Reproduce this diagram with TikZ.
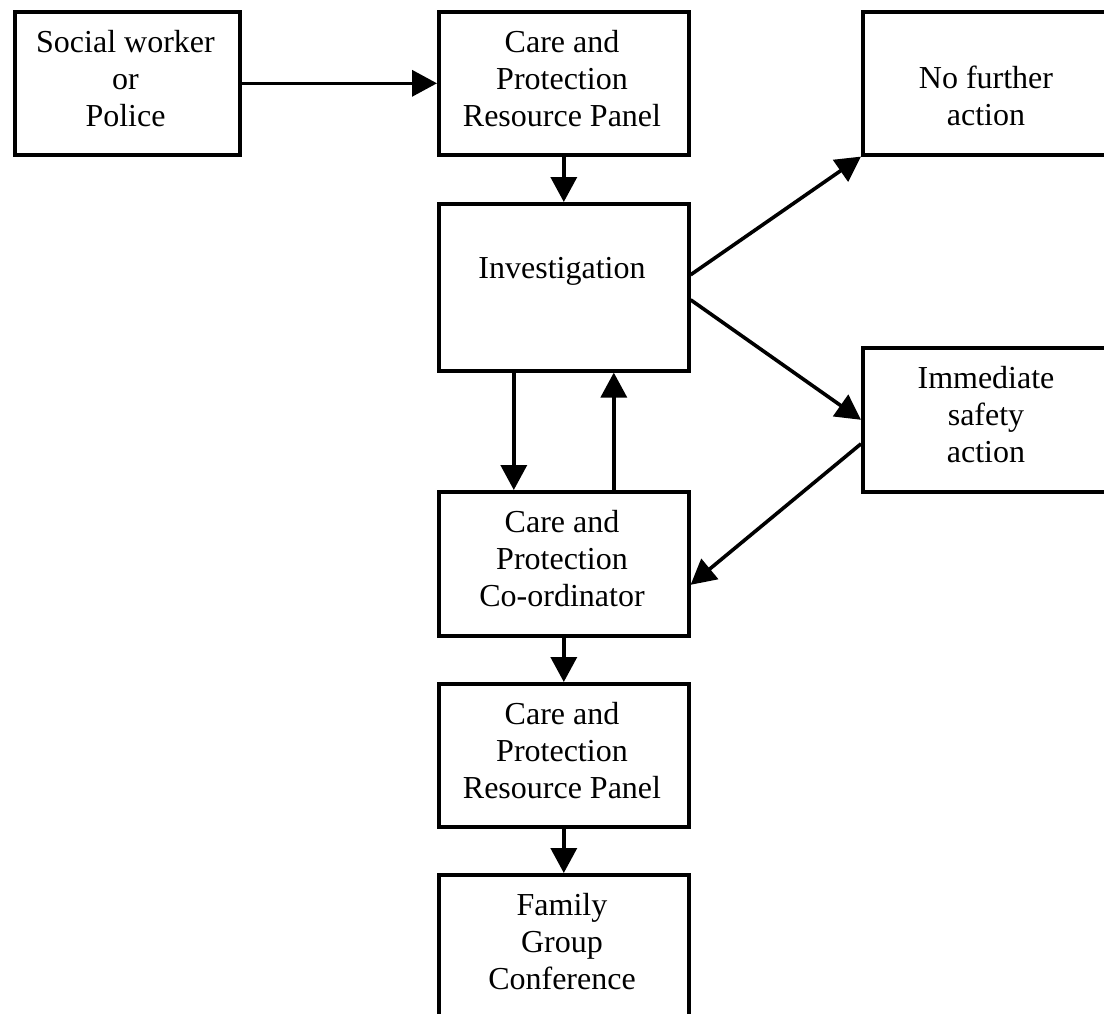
\documentclass[tikz,border=0pt]{standalone}
\usepackage{fontspec}
\setmainfont{Liberation Serif}
\usetikzlibrary{arrows.meta}
\begin{document}
\begin{tikzpicture}[x=1pt,y=-1pt,
  box/.style={draw, line width=3.6pt, inner sep=0pt, anchor=north west, minimum width=250pt},
  txt/.style={font=\fontsize{32}{36.8}\selectfont, align=center, inner sep=0pt, anchor=north},
  arr/.style={line width=3.6pt, -{Triangle[length=25pt,width=26pt]}}
]
\useasboundingbox (0,0) rectangle (1104,1013);
\clip (0,0) rectangle (1104,1013);
\fill[white] (0,0) rectangle (1104,1013);

% boxes
\node[box, minimum width=225pt, minimum height=143pt] (sw) at (13,10) {};
\node[box, minimum height=143pt] (cprpa) at (437,10) {};
\node[box, minimum height=143pt] (nfa) at (861,10) {};
\node[box, minimum height=167pt] (inv) at (437,202) {};
\node[box, minimum height=144pt] (isa) at (861,346) {};
\node[box, minimum height=144pt] (cpc) at (437,490) {};
\node[box, minimum height=143pt] (cprpb) at (437,682) {};
\node[box, minimum height=170pt] (fgc) at (437,873) {};

% texts
\node[txt] (swt) at (125.5,27) {\strut Social worker\\or\\Police};
\node[txt] (cprpat) at (562,27) {\strut Care and\\Protection\\Resource Panel};
\node[txt] (nfat) at (986,63) {\strut No further\\action};
\node[txt] (invt) at (562,252.5) {\strut Investigation};
\node[txt] (isat) at (986,363) {\strut Immediate\\safety\\action};
\node[txt] (cpct) at (562,507) {\strut Care and\\Protection\\Co-ordinator};
\node[txt] (cprpbt) at (562,699) {\strut Care and\\Protection\\Resource Panel};
\node[txt] (fgct) at (562,890) {\strut Family\\Group\\Conference};

% connectors
\draw[arr] (sw.east) -- (cprpa.west);
\draw[arr] (cprpa.south) -- (inv.north);
\draw[arr] ([yshift=12.5pt]inv.east) -- (nfa.south west);
\draw[arr] ([yshift=-12.5pt]inv.east) -- (isa.west);
\draw[arr] ([yshift=-24pt]isa.west) -- ([yshift=-21pt]cpc.east);
\draw[arr] ([xshift=-50pt]inv.south) -- ([xshift=-50pt]cpc.north);
\draw[arr] ([xshift=50pt]cpc.north) -- ([xshift=50pt]inv.south);
\draw[arr] (cpc.south) -- (cprpb.north);
\draw[arr] (cprpb.south) -- (fgc.north);
\end{tikzpicture}
\end{document}
